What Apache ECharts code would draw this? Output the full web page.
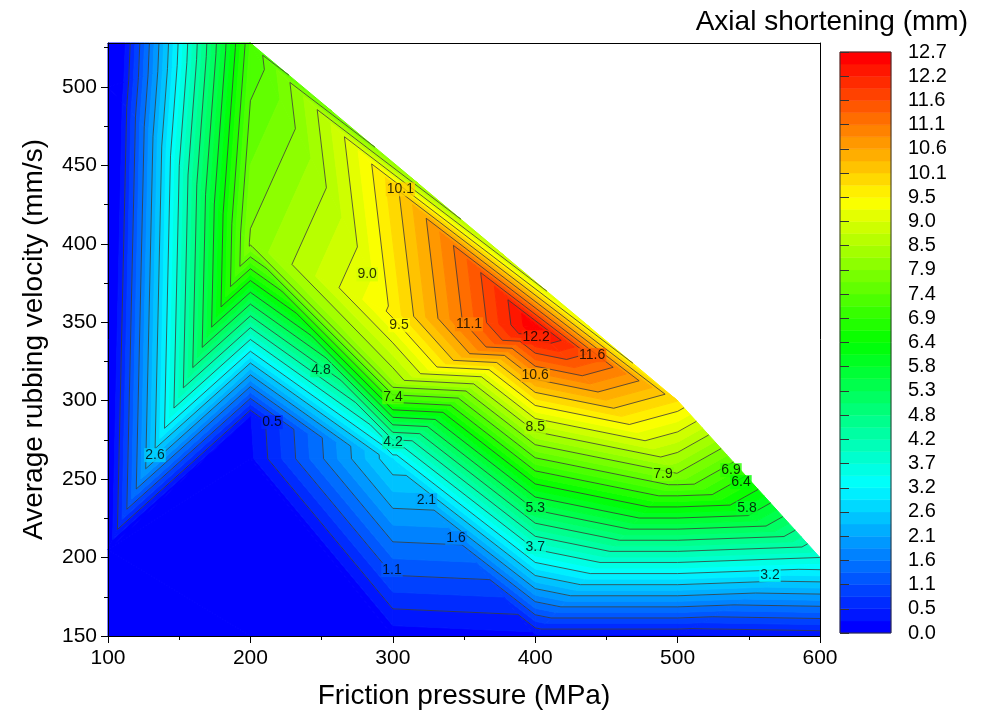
<!DOCTYPE html>
<html>
<head>
<meta charset="utf-8">
<script src="https://cdn.jsdelivr.net/npm/echarts@6/dist/echarts.min.js"></script>
<style>
  html, body { margin: 0; background: #fff; }
  #chart { width: 984px; height: 716px; }
</style>
</head>
<body>
<div id="chart"></div>
<script>
// measured points: friction pressure (MPa), average rubbing velocity (mm/s), axial shortening (mm)
const pressure   = [100, 100, 100, 100, 200, 200, 200, 200, 200, 300, 300, 300, 300, 400, 400, 500, 500, 500, 600, 600];
const velocity   = [150, 205, 500, 528, 150, 263, 290, 400, 528, 150, 263, 310, 355, 150, 347, 150, 253, 300, 150, 200];
const shortening = [0, 0, -0.6, -0.7, 0, 0.2, 0.25, 8.0, 7.17, 0.1, 2.9, 8.1, 9.6, 0.2, 12.7, 0.2, 7.9, 9.8, 0.3, 3.7];

// triangles joining the points (indices into the arrays above)
const triangles = [
  [0, 4, 1], [1, 4, 5], [1, 5, 6], [1, 6, 7], [1, 7, 2], [2, 7, 8], [2, 8, 3],
  [4, 9, 5], [5, 9, 10], [5, 10, 6], [6, 10, 7], [7, 10, 11], [7, 11, 12], [7, 12, 8],
  [8, 12, 14], [8, 14, 17], [12, 11, 14], [11, 10, 14], [10, 13, 14], [10, 9, 13],
  [13, 15, 16], [13, 16, 14], [16, 17, 14], [15, 18, 19], [15, 19, 16], [16, 19, 17]
];

// contour labels as printed on the plot
const labelText = ['10.1', '9.0', '9.5', '11.1', '12.2', '11.6', '10.6', '4.8', '7.4', '8.5', '0.5', '4.2',
                   '2.6', '7.9', '6.9', '6.4', '2.1', '5.3', '5.8', '1.6', '3.7', '1.1', '3.2'];
const labelP = [305.3, 282, 304.4, 353.5, 400.6, 440, 400, 249.6, 300.1, 400, 215.2, 300.1,
                133, 489.7, 537.5, 544.5, 323.6, 400, 548.7, 344.4, 400, 299.4, 564.9];
const labelV = [434.7, 380.5, 348.1, 348.7, 340.4, 329, 316.2, 319.4, 302.2, 283.1, 286.3, 273.5,
                265.3, 253.2, 255.7, 248.1, 236.6, 231.5, 231.5, 212.4, 206.7, 192, 188.9];

const xTicks = [100, 200, 300, 400, 500, 600];
const yTicks = [150, 200, 250, 300, 350, 400, 450, 500];
const yMinorTicks = [175, 225, 275, 325, 375, 425, 475, 525];
const colorTicks = ['0.0', '0.5', '1.1', '1.6', '2.1', '2.6', '3.2', '3.7', '4.2', '4.8', '5.3', '5.8', '6.4',
                    '6.9', '7.4', '7.9', '8.5', '9.0', '9.5', '10.1', '10.6', '11.1', '11.6', '12.2', '12.7'];
const zMax = 12.7;
const bandCount = 48;
const lineCount = 24;

const FONT = 'Liberation Sans, Arial, sans-serif';
const stops = [[0, 0, 255], [0, 255, 255], [0, 255, 0], [255, 255, 0], [255, 0, 0]];

function rampColor(t) {
  t = Math.max(0, Math.min(1, t));
  const s = t * 4, i = Math.min(3, Math.floor(s)), f = s - i;
  const a = stops[i], b = stops[i + 1];
  return 'rgb(' + a.map((c, k) => Math.round(c + (b[k] - c) * f)).join(',') + ')';
}
function bandColor(i) { return rampColor(i / (bandCount - 1)); }

// keep the part of a polygon [x, y, z] above (or below) a level
function clip(poly, level, above) {
  const out = [];
  for (let i = 0; i < poly.length; i++) {
    const a = poly[i], b = poly[(i + 1) % poly.length];
    const ina = above ? a[2] >= level : a[2] <= level;
    const inb = above ? b[2] >= level : b[2] <= level;
    if (ina) out.push(a);
    if (ina !== inb) {
      const t = (level - a[2]) / (b[2] - a[2]);
      out.push([a[0] + (b[0] - a[0]) * t, a[1] + (b[1] - a[1]) * t, level]);
    }
  }
  return out;
}

function triPoints(idx) {
  return triangles[idx].map(k => [pressure[k], velocity[k], shortening[k]]);
}

function renderFill(params, api) {
  const tri = triPoints(params.dataIndex);
  const step = zMax / bandCount;
  const children = [];
  for (let b = 0; b < bandCount; b++) {
    let poly = tri;
    if (b > 0) poly = clip(poly, b * step, true);
    if (poly.length && b < bandCount - 1) poly = clip(poly, (b + 1) * step, false);
    if (poly.length < 3) continue;
    const c = bandColor(b);
    children.push({
      type: 'polygon',
      shape: { points: poly.map(p => api.coord([p[0], p[1]])) },
      style: { fill: c, stroke: c, lineWidth: 1 }
    });
  }
  return { type: 'group', children };
}

function renderLines(params, api) {
  const tri = triPoints(params.dataIndex);
  const step = zMax / lineCount;
  const children = [];
  for (let k = 1; k < lineCount; k++) {
    const L = k * step;
    const pts = [];
    for (let i = 0; i < 3; i++) {
      const a = tri[i], b = tri[(i + 1) % 3];
      if ((a[2] >= L) !== (b[2] >= L)) {
        const t = (L - a[2]) / (b[2] - a[2]);
        pts.push(api.coord([a[0] + (b[0] - a[0]) * t, a[1] + (b[1] - a[1]) * t]));
      }
    }
    if (pts.length === 2) {
      children.push({
        type: 'line',
        shape: { x1: pts[0][0], y1: pts[0][1], x2: pts[1][0], y2: pts[1][1] },
        style: { stroke: '#3a3a3a', lineWidth: 0.8 }
      });
    }
  }
  return { type: 'group', children };
}

function renderBar(params, api) {
  const i = params.dataIndex;
  const unit = (colorTicks.length - 1) / bandCount;
  const p0 = api.coord([0, i * unit]);
  const p1 = api.coord([1, (i + 1) * unit]);
  const c = bandColor(i);
  const children = [{
    type: 'rect',
    shape: { x: p0[0], y: p1[1], width: p1[0] - p0[0], height: p0[1] - p1[1] },
    style: { fill: c, stroke: c, lineWidth: 0.5 }
  }];
  if (i === bandCount - 1) {
    const q0 = api.coord([0, 0]), q1 = api.coord([1, colorTicks.length - 1]);
    children.push({
      type: 'rect', z2: 10,
      shape: { x: q0[0], y: q1[1], width: q1[0] - q0[0], height: q0[1] - q1[1] },
      style: { fill: 'none', stroke: '#333', lineWidth: 1 }
    });
  }
  return { type: 'group', children };
}

const chart = echarts.init(document.getElementById('chart'));

const triData = triangles.map(t => [pressure[t[0]], velocity[t[0]]]);
const bandData = [];
for (let i = 0; i < bandCount; i++) bandData.push([0, i]);

chart.setOption({
  animation: false,
  backgroundColor: '#fff',
  textStyle: { fontFamily: FONT },
  grid: [
    { left: 108, top: 43, width: 712, height: 593 },
    { left: 840, top: 52, width: 51, height: 581 }
  ],
  xAxis: [
    {
      type: 'value', gridIndex: 0, min: 100, max: 600, interval: 100, z: 10,
      axisLine: { lineStyle: { color: '#000', width: 1 } },
      axisTick: { show: true, length: 7, lineStyle: { color: '#000' } },
      minorTick: { show: true, splitNumber: 2, length: 4, lineStyle: { color: '#000' } },
      splitLine: { show: false },
      axisLabel: { fontSize: 21, color: '#000', margin: 12, fontFamily: FONT,
                   customValues: xTicks },
      name: 'Friction pressure (MPa)', nameLocation: 'middle', nameGap: 46,
      nameTextStyle: { fontSize: 28, color: '#000', fontFamily: FONT }
    },
    {
      type: 'value', gridIndex: 0, min: 100, max: 600, position: 'top', z: 10,
      axisLine: { show: true, lineStyle: { color: '#000', width: 1 } },
      axisTick: { show: false }, axisLabel: { show: false }, splitLine: { show: false }
    },
    {
      type: 'value', gridIndex: 1, min: 0, max: 1, show: false
    }
  ],
  yAxis: [
    {
      type: 'value', gridIndex: 0, min: 150, max: 528, interval: 50, z: 10,
      axisLine: { show: true, lineStyle: { color: '#000', width: 1 } },
      axisTick: { show: true, length: 7, lineStyle: { color: '#000' }, customValues: yTicks },
      splitLine: { show: false },
      axisLabel: { fontSize: 21, color: '#000', margin: 11, fontFamily: FONT, customValues: yTicks },
      name: 'Average rubbing velocity (mm/s)', nameLocation: 'middle', nameGap: 60,
      nameTextStyle: { fontSize: 28, color: '#000', fontFamily: FONT }
    },
    {
      type: 'value', gridIndex: 0, min: 150, max: 528, position: 'right', z: 10,
      axisLine: { show: true, lineStyle: { color: '#000', width: 1 } },
      axisTick: { show: false }, axisLabel: { show: false }, splitLine: { show: false }
    },
    {
      type: 'value', gridIndex: 1, min: 0, max: colorTicks.length - 1, interval: 1, position: 'right', z: 10,
      axisLine: { show: false },
      axisTick: { show: true, length: 9, lineStyle: { color: '#333' } },
      splitLine: { show: false },
      axisLabel: { fontSize: 20, color: '#000', margin: 17, fontFamily: FONT,
                   formatter: v => colorTicks[Math.round(v)] }
    },
    {
      type: 'value', gridIndex: 0, min: 150, max: 528, position: 'left', z: 10,
      axisLine: { show: false },
      axisTick: { show: true, length: 4, lineStyle: { color: '#000' }, customValues: yMinorTicks },
      axisLabel: { show: false }, splitLine: { show: false }
    }
  ],
  graphic: [{
    type: 'text', right: 16, top: 8,
    style: { text: 'Axial shortening (mm)', fontSize: 28, fill: '#000', fontFamily: FONT }
  }],
  series: [
    {
      type: 'custom', xAxisIndex: 0, yAxisIndex: 0, silent: true, z: 1,
      data: triData, renderItem: renderFill
    },
    {
      type: 'custom', xAxisIndex: 0, yAxisIndex: 0, silent: true, z: 2,
      data: triData, renderItem: renderLines
    },
    {
      type: 'scatter', xAxisIndex: 0, yAxisIndex: 0, silent: true, z: 3,
      symbolSize: 0,
      data: labelText.map((t, i) => ({
        value: [labelP[i], labelV[i]], name: t,
        label: { backgroundColor: rampColor(parseFloat(t) / zMax) }
      })),
      label: { show: true, position: 'inside', formatter: '{b}', fontSize: 14, color: '#000',
               fontFamily: FONT, padding: [0, 1] }
    },
    {
      type: 'custom', xAxisIndex: 2, yAxisIndex: 2, silent: true, z: 1,
      data: bandData, renderItem: renderBar
    }
  ]
});
</script>
</body>
</html>
